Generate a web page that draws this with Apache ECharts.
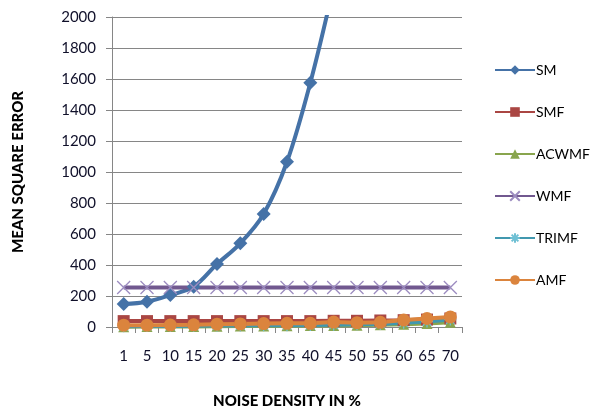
<!DOCTYPE html>
<html><head><meta charset="utf-8">
<script src="https://cdn.jsdelivr.net/npm/echarts@6/dist/echarts.min.js"></script>
<style>html,body{margin:0;padding:0;background:#fff}#c{width:591px;height:411px}</style>
</head><body><div id="c"></div>
<script>
var categories = ['1','5','10','15','20','25','30','35','40','45','50','55','60','65','70'];
var smValues = [148,163,206,260,406,540,729,1066,1576,2200,null,null,null,null,null];
var smfValues = [38,38,38,38,38,38,38,38,38,40,40,42,44,48,55];
var acwmfValues = [2,3,3,4,5,6,7,8,9,10,12,14,18,22,30];
var wmfValues = [255,255,255,255,255,255,255,255,255,255,255,255,255,255,255];
var trimfValues = [5,6,7,8,9,10,11,12,13,15,18,20,28,35,48];
var amfValues = [12,12,13,14,18,20,22,24,24,32,28,30,45,55,65];
var yTicks = [0,200,400,600,800,1000,1200,1400,1600,1800,2000];

var FONT = 'Lato';
var xPath = 'path://M0,0L10,10M10,0L0,10';
var starPath = 'path://M5,0L5,10M0,5L10,5M1.5,1.5L8.5,8.5M8.5,1.5L1.5,8.5';

function mk(name, data, color, symbol, size, extra) {
  var s = {
    name: name, type: 'line', data: data, smooth: name === 'SM' ? 0.35 : false,
    symbol: symbol, symbolSize: size, showAllSymbol: true,
    lineStyle: {color: color, width: 4},
    itemStyle: {color: color},
    connectNulls: false, clip: true
  };
  if (extra) Object.assign(s, extra);
  return s;
}

var chart = echarts.init(document.getElementById('c'), null, {renderer: 'canvas'});
chart.setOption({
  animation: false,
  backgroundColor: '#fff',
  grid: {left: 112, right: 129, top: 17, bottom: 84, containLabel: false, outerBoundsMode: 'none'},
  legend: {
    orient: 'vertical', left: 489, top: 58, itemWidth: 40, itemHeight: 12, itemGap: 28,
    textStyle: {fontFamily: FONT, fontSize: 14, color: '#000', padding: [0,0,0,-4]},
    data: ['SM','SMF','ACWMF','WMF','TRIMF','AMF']
  },
  xAxis: {
    type: 'category', data: categories, boundaryGap: true,
    name: 'NOISE DENSITY IN %', nameLocation: 'middle', nameGap: 67,
    nameTextStyle: {fontFamily: FONT, fontSize: 15, fontWeight: 900, color: '#000'},
    axisLine: {lineStyle: {color: '#868686', width: 1}},
    axisTick: {show: true, alignWithLabel: false, length: 6, lineStyle: {color: '#868686'}},
    axisLabel: {fontFamily: FONT, fontSize: 15, color: '#10102a', margin: 22, interval: 0}
  },
  yAxis: {
    type: 'value', min: 0, max: 2000, interval: 200,
    name: 'MEAN SQUARE ERROR', nameLocation: 'middle', nameGap: 86, nameRotate: 90,
    nameTextStyle: {fontFamily: FONT, fontSize: 15, fontWeight: 900, color: '#000'},
    axisLine: {show: true, lineStyle: {color: '#868686', width: 1}},
    axisTick: {show: true, length: 6, lineStyle: {color: '#868686'}},
    axisLabel: {fontFamily: FONT, fontSize: 15, color: '#10102a', margin: 16,
      formatter: function(v){ return yTicks.indexOf(v) >= 0 ? String(v) : ''; }},
    splitLine: {lineStyle: {color: '#868686', width: 1}}
  },
  series: [
    mk('SM', smValues, '#4572A7', 'diamond', 14),
    mk('SMF', smfValues, '#AA4643', 'rect', 12),
    mk('ACWMF', acwmfValues, '#89A54E', 'triangle', 11),
    mk('WMF', wmfValues, '#71588F', xPath, 13, {itemStyle: {color: '#71588F', borderColor: '#9c8cc0', borderWidth: 1.3}}),
    mk('TRIMF', trimfValues, '#4198AF', starPath, 12, {itemStyle: {color: '#4198AF', borderColor: '#6fc0d4', borderWidth: 1.3}}),
    mk('AMF', amfValues, '#DB843D', 'circle', 13)
  ]
});
</script>
</body></html>
